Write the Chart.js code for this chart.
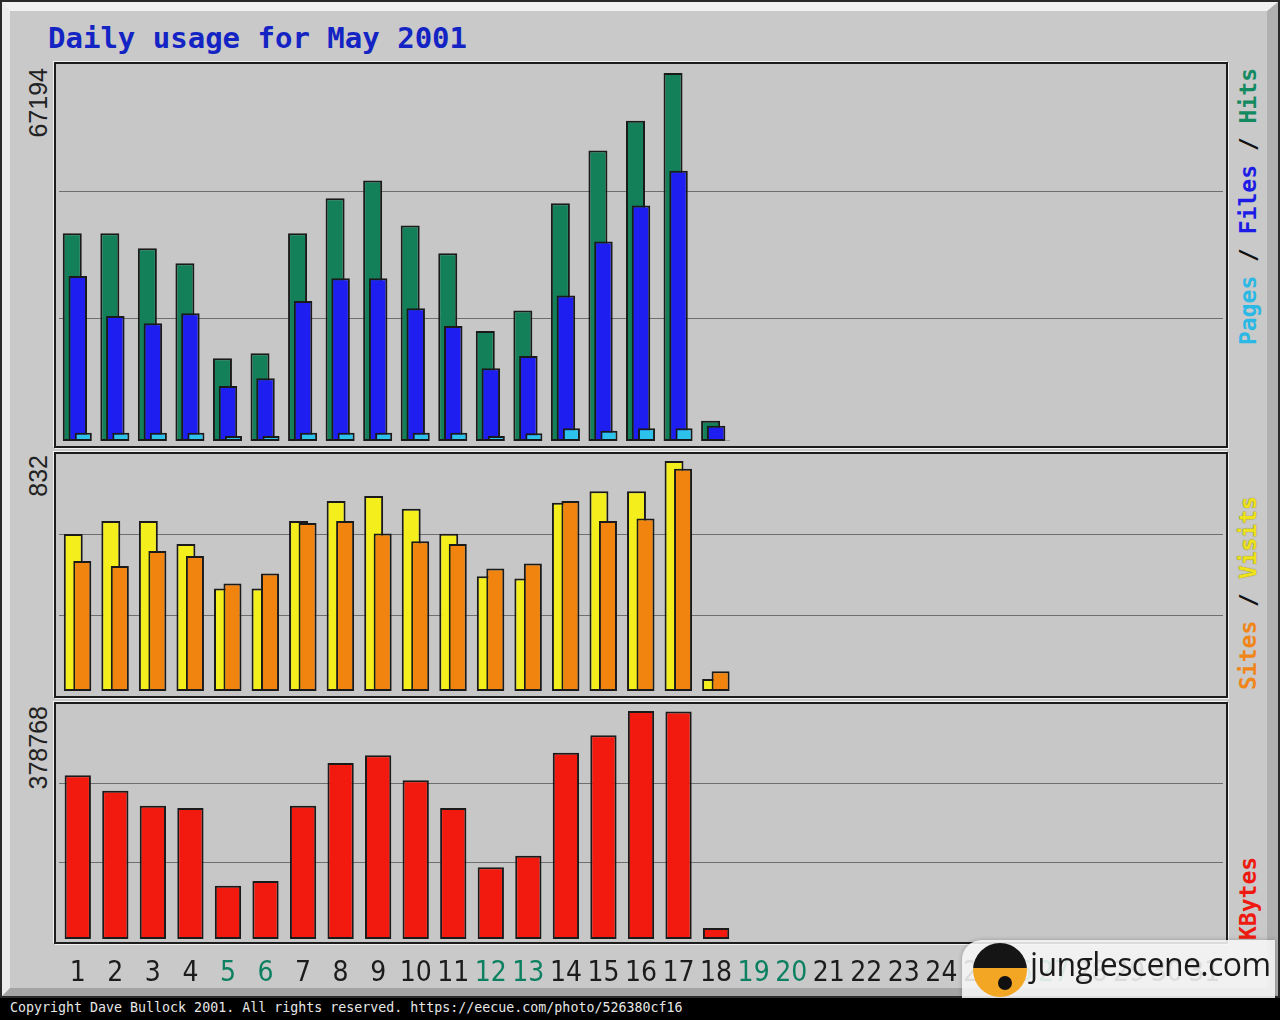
<!DOCTYPE html>
<html>
<head>
<meta charset="utf-8">
<title>Daily usage for May 2001</title>
<script src="https://cdn.jsdelivr.net/npm/chart.js@4.4.1/dist/chart.umd.min.js"></script>
<style>
    html, body { margin: 0; padding: 0; background: #000; }
    body { width: 1280px; height: 1020px; position: relative; overflow: hidden; }
    .abs { position: absolute; }
    #frame { left: 0; top: 0; width: 1280px; height: 998px; box-sizing: border-box; border: 2px solid #2a2a2a; }
    #bevel { left: 0; top: 0; right: 0; bottom: 0; box-sizing: border-box; border-style: solid;
             border-width: 9px 11px 8px 8px; border-color: #f2f2f2 #b0b0b0 #a4a4a4 #ececec; background: #c9c9c9; }
    .panel { left: 54px; width: 1174px; box-sizing: border-box; border: 2px solid #1c1c1c;
             box-shadow: 1px 1px 0 #f2f2f2, -1px -1px 0 #f2f2f2; background: #c7c7c7; }
    #title { left: 48px; top: 24px; font: bold 29px/29px "DejaVu Sans Mono", monospace; color: #1424c4; white-space: nowrap; }
    .rot { transform-origin: 0 0; transform: rotate(-90deg); white-space: nowrap; }
    .ymax { font: 25px/25px "Liberation Sans", Arial, sans-serif; color: #222; width: 300px; text-align: right; }
    .legend { font: bold 23px/23px "DejaVu Sans Mono", monospace; width: 400px; text-align: left; color: #111; }
    #copy { left: 10px; top: 999px; font: 13.3px/18px "DejaVu Sans Mono", monospace; color: #e6e6e6; white-space: nowrap; }
    #mark { left: 962px; top: 940px; width: 313px; height: 58px; border-radius: 20px 0 0 0;
            background: rgba(246, 246, 246, 0.88); box-shadow: 0 0 4px rgba(0,0,0,0.25); }
    #logo { left: 973px; top: 943px; width: 54px; height: 54px; border-radius: 50%;
            background: linear-gradient(#151515 0%, #151515 46%, #f3a524 46%, #f3a524 100%); }
    #logoDot { left: 994px; top: 972px; width: 14px; height: 14px; border-radius: 50%;
               background: #111; border: 4px solid #f3a524; }
    #markText { left: 1030px; top: 944px; font: 32px/40px "Open Sans", sans-serif; color: #1a1a1a; letter-spacing: -0.6px; white-space: nowrap; }
</style>
</head>
<body>
<div id="frame" class="abs"><div id="bevel" class="abs"></div></div>

<div class="abs panel" style="top:62px;height:386px"></div>
<div class="abs panel" style="top:452px;height:246px"></div>
<div class="abs panel" style="top:702px;height:242px"></div>

<div id="title" class="abs">Daily usage for May 2001</div>

<div class="abs" style="left:56px;top:64px;width:1170px;height:382px"><canvas id="usageChart" width="1170" height="382"></canvas></div>
<div class="abs" style="left:56px;top:454px;width:1170px;height:242px"><canvas id="visitsChart" width="1170" height="242"></canvas></div>
<div class="abs" style="left:56px;top:704px;width:1170px;height:290px"><canvas id="kbytesChart" width="1170" height="290"></canvas></div>

<div class="abs rot ymax" id="ymax1" style="left:26px;top:368px"></div>
<div class="abs rot ymax" id="ymax2" style="left:26px;top:755px"></div>
<div class="abs rot ymax" id="ymax3" style="left:26px;top:1006px"></div>

<div class="abs rot legend" style="left:1237px;top:345px">
    <span style="color:#2cb8e4">Pages</span> / <span style="color:#1c1ce6">Files</span> / <span style="color:#138a60">Hits</span>
</div>
<div class="abs rot legend" style="left:1237px;top:690px">
    <span style="color:#f0861a">Sites</span> / <span style="color:#eee21c;text-shadow:0 0 1px #6a6000">Visits</span>
</div>
<div class="abs rot legend" style="left:1237px;top:940px">
    <span style="color:#ee1a10">KBytes</span>
</div>

<div id="mark" class="abs"></div>
<div id="logo" class="abs"></div>
<div id="logoDot" class="abs"></div>
<div id="markText" class="abs">junglescene.com</div>

<div id="copy" class="abs">Copyright Dave Bullock 2001. All rights reserved. https://eecue.com/photo/526380cf16</div>

<script>
// May 2001, one slot per day
const dayLabels = ['1', '2', '3', '4', '5', '6', '7', '8', '9', '10', '11', '12', '13', '14', '15', '16',
    '17', '18', '19', '20', '21', '22', '23', '24', '25', '26', '27', '28', '29', '30', '31'];
const weekendDays = [5, 6, 12, 13, 19, 20, 26, 27];

// days 1..18 (the rest of the month has no data yet)
const hits   = [37950, 37950, 35200, 32460, 15110, 16020, 37950, 44340, 47560, 39340, 34290, 20100, 23810, 43430, 53040, 58460, 67194, 3710];
const files  = [30150, 22840, 21500, 23330, 10050, 11450, 25580, 29720, 29720, 24240, 21010, 13280, 15530, 26550, 36410, 42990, 49330, 2800];
const pages  = [1520, 1520, 1520, 1520, 910, 910, 1520, 1520, 1520, 1520, 1520, 910, 1400, 2320, 1880, 2320, 2320, 100];
const visits = [568, 615, 615, 532, 371, 371, 615, 687, 705, 659, 569, 415, 407, 681, 723, 723, 832, 43];
const sites  = [470, 452, 506, 488, 389, 425, 608, 615, 570, 542, 532, 443, 461, 687, 615, 624, 804, 71];
const kbytes = [271900, 246300, 221400, 217600, 88500, 96300, 221400, 292300, 305100, 263600, 217600, 119100, 138400, 309400, 338300, 378768, 377900, 18300];

// printed maximum of each panel
const panelMax = [67194, 832, 378768];

const outline = '#1a1a1a';
const gridColor = '#6e6e6e';
const weekendColor = '#0c8060';

document.getElementById('ymax1').textContent = String(panelMax[0]);
document.getElementById('ymax2').textContent = String(panelMax[1]);
document.getElementById('ymax3').textContent = String(panelMax[2]);

// zero line sits a few px above the panel floor, the peak a few px below its top
function yRange(peak, areaHeight, zeroGap, peakGap) {
    const perPx = peak / (areaHeight - zeroGap - peakGap);
    return { min: -zeroGap * perPx, max: peak + peakGap * perPx };
}

// grid lines split each panel into thirds
function thirdsTicks(scale) {
    const span = scale.max - scale.min;
    scale.ticks = [0, 1, 2, 3].map(function (k) { return { value: scale.min + span * k / 3 }; });
}

// webalizer paints the left bar first, the ones to its right over it
const leftBarsBelow = {
    id: 'leftBarsBelow',
    beforeDatasetsDraw(chart) {
        chart.getSortedVisibleDatasetMetas().forEach(function (meta) {
            meta.controller.draw();
        });
        return false;
    }
};

function bar(label, data, color, catPct, barPct) {
    return {
        label: label,
        data: data,
        backgroundColor: color,
        borderColor: outline,
        borderWidth: 2,
        borderSkipped: false,
        categoryPercentage: catPct,
        barPercentage: barPct
    };
}

function panelOptions(range, showDays) {
    return {
        responsive: false,
        animation: false,
        events: [],
        layout: { padding: { left: 3, right: 3, top: 0, bottom: 0 } },
        plugins: { legend: { display: false }, tooltip: { enabled: false } },
        scales: {
            x: {
                display: showDays,
                grid: { display: false, drawTicks: false, tickLength: 0 },
                border: { display: false },
                // keep the same plot width as the panels above
                afterFit: function (scale) {
                    if (showDays) scale.height = 52;
                    scale.paddingLeft = 0;
                    scale.paddingRight = 0;
                },
                ticks: {
                    autoSkip: false,
                    maxRotation: 0,
                    padding: 15,
                    font: { family: '"Liberation Sans Narrow", "DejaVu Sans Condensed", sans-serif', size: 28 },
                    color: function (ctx) {
                        return weekendDays.indexOf(ctx.index + 1) >= 0 ? weekendColor : '#1c1c1c';
                    }
                }
            },
            y: {
                min: range.min,
                max: range.max,
                afterBuildTicks: thirdsTicks,
                afterFit: function (scale) { scale.width = 0; },
                ticks: { display: false },
                border: { display: false },
                grid: {
                    drawTicks: false,
                    lineWidth: 1,
                    color: function (ctx) {
                        return (ctx.index === 1 || ctx.index === 2) ? gridColor : 'rgba(0,0,0,0)';
                    }
                }
            }
        }
    };
}

new Chart(document.getElementById('usageChart').getContext('2d'), {
    type: 'bar',
    data: {
        labels: dayLabels,
        datasets: [
            bar('Hits', hits, '#13805a', 0.44, 3.45),
            bar('Files', files, '#1e1ef0', 0.44, 3.36),
            bar('Pages', pages, '#2cc2ec', 0.44, 3.1)
        ]
    },
    options: panelOptions(yRange(panelMax[0], 382, 5, 9), false),
    plugins: [leftBarsBelow]
});

new Chart(document.getElementById('visitsChart').getContext('2d'), {
    type: 'bar',
    data: {
        labels: dayLabels,
        datasets: [
            bar('Visits', visits, '#f4ee1c', 0.48, 2.1),
            bar('Sites', sites, '#f0840e', 0.48, 2.0)
        ]
    },
    options: panelOptions(yRange(panelMax[1], 242, 5, 7), false),
    plugins: [leftBarsBelow]
});

new Chart(document.getElementById('kbytesChart').getContext('2d'), {
    type: 'bar',
    data: {
        labels: dayLabels,
        datasets: [
            bar('KBytes', kbytes, '#f21a0e', 0.7, 1)
        ]
    },
    options: panelOptions(yRange(panelMax[2], 238, 3, 7), true)
});
</script>
</body>
</html>
